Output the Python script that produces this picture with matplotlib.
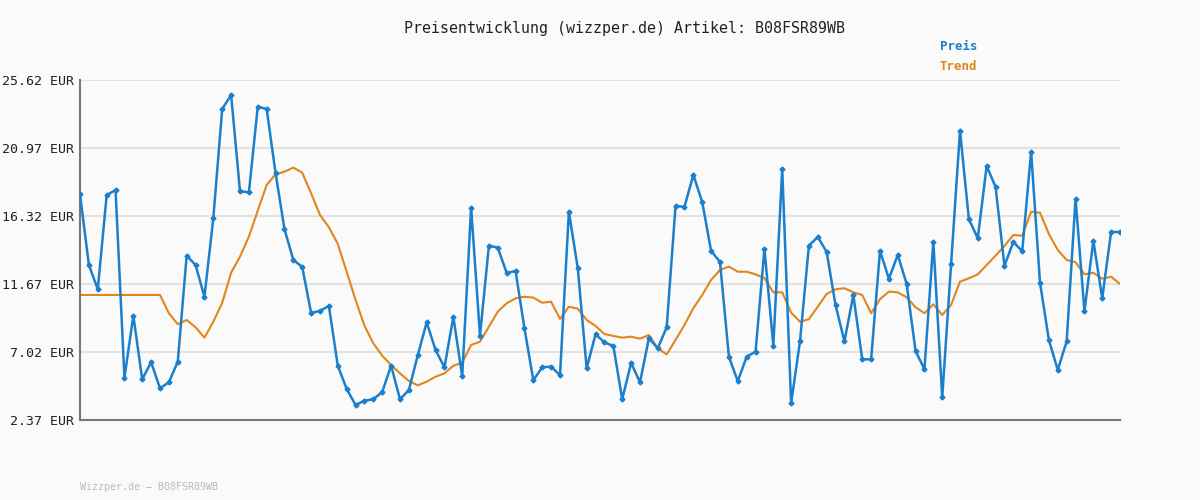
import matplotlib
matplotlib.use("Agg")
import matplotlib.pyplot as plt

preis = [17.81, 12.97, 11.31, 17.74, 18.10, 5.26, 9.50, 5.15, 6.32, 4.54,
         4.95, 6.36, 13.61, 12.97, 10.80, 16.19, 23.64, 24.60, 18.01, 17.94,
         23.80, 23.64, 19.26, 15.43, 13.31, 12.84, 9.69, 9.83, 10.17, 6.09,
         4.49, 3.40, 3.69, 3.79, 4.29, 6.09, 3.79, 4.42, 6.80, 9.05,
         7.16, 5.97, 9.42, 5.36, 16.89, 8.14, 14.29, 14.16, 12.42, 12.56,
         8.64, 5.09, 5.97, 6.02, 5.43, 16.60, 12.75, 5.91, 8.23, 7.68,
         7.43, 3.79, 6.27, 4.95, 7.96, 7.27, 8.71, 17.01, 16.94, 19.13,
         17.28, 13.93, 13.18, 6.70, 5.02, 6.70, 7.04, 14.07, 7.45, 19.54,
         3.51, 7.75, 14.29, 14.89, 13.86, 10.22, 7.75, 10.92, 6.52, 6.52,
         13.93, 12.03, 13.66, 11.67, 7.09, 5.84, 14.55, 3.92, 13.04, 22.14,
         16.10, 14.80, 19.74, 18.31, 12.92, 14.55, 13.91, 20.72, 11.76, 7.84,
         5.79, 7.75, 17.51, 9.81, 14.63, 10.69, 15.23, 15.23]

trend = [10.92, 10.92, 10.92, 10.92, 10.92, 10.92, 10.92, 10.92, 10.92, 10.92,
         9.67, 8.92, 9.21, 8.71, 8.00, 9.09, 10.39, 12.44, 13.54, 14.91,
         16.69, 18.44, 19.17, 19.35, 19.63, 19.28, 17.87, 16.39, 15.55, 14.41,
         12.51, 10.58, 8.82, 7.61, 6.77, 6.13, 5.56, 5.04, 4.74, 4.99,
         5.33, 5.56, 6.08, 6.29, 7.50, 7.73, 8.75, 9.78, 10.35, 10.69,
         10.80, 10.74, 10.39, 10.46, 9.28, 10.12, 9.98, 9.21, 8.80, 8.25,
         8.12, 8.00, 8.07, 7.93, 8.18, 7.27, 6.86, 7.84, 8.87, 10.01,
         10.92, 11.95, 12.63, 12.86, 12.51, 12.51, 12.33, 12.06, 11.10, 11.10,
         9.71, 9.09, 9.26, 10.12, 10.99, 11.31, 11.38, 11.10, 10.92, 9.67,
         10.63, 11.15, 11.10, 10.76, 10.08, 9.67, 10.28, 9.55, 10.24, 11.83,
         12.06, 12.33, 12.97, 13.61, 14.27, 15.02, 14.97, 16.61, 16.55, 15.09,
         13.99, 13.31, 13.16, 12.33, 12.44, 12.03, 12.17, 11.67]

yticks = [2.37, 7.02, 11.67, 16.32, 20.97, 25.62]
artikel = "B08FSR89WB"

blue = "#1a7fcc"
orange = "#e0861c"
plt.rcParams["font.family"] = "DejaVu Sans Mono"

fig = plt.figure(figsize=(12, 5), dpi=100, facecolor="#fafafa")
ax = fig.add_axes([80 / 1200, 80 / 500, 1040 / 1200, 340 / 500], facecolor="#fafafa")

x = range(len(preis))
ax.plot(x, preis, color=blue, lw=1.8, marker="D", ms=2.5, zorder=3)
ax.plot(x, trend, color=orange, lw=1.5, zorder=2)

ax.set_xlim(0, len(preis) - 1)
ax.set_ylim(yticks[0], yticks[-1])
ax.set_yticks(yticks)
ax.set_yticklabels([f"{v:.2f} EUR" for v in yticks], fontsize=9.5, color="#222222")
ax.set_xticks([])
ax.grid(axis="y", color="#e2e2e2", lw=1.5)
ax.tick_params(axis="y", length=0, pad=4)
for s in ["top", "right"]:
    ax.spines[s].set_visible(False)
for s in ["left", "bottom"]:
    ax.spines[s].set_color("#777777")
    ax.spines[s].set_linewidth(1.5)

fig.text(624 / 1200, 1 - 28 / 500, f"Preisentwicklung (wizzper.de) Artikel: {artikel}",
         ha="center", va="center", fontsize=10.8, color="#222222")
fig.text(940 / 1200, 1 - 47 / 500, "Preis", color=blue, fontsize=9, fontweight="bold", va="center")
fig.text(940 / 1200, 1 - 67 / 500, "Trend", color=orange, fontsize=9, fontweight="bold", va="center")
fig.text(80 / 1200, 1 - 487 / 500, f"Wizzper.de – {artikel}", color="#bbbbbb", fontsize=7.2, va="center")

fig.savefig("out.png", facecolor=fig.get_facecolor())
